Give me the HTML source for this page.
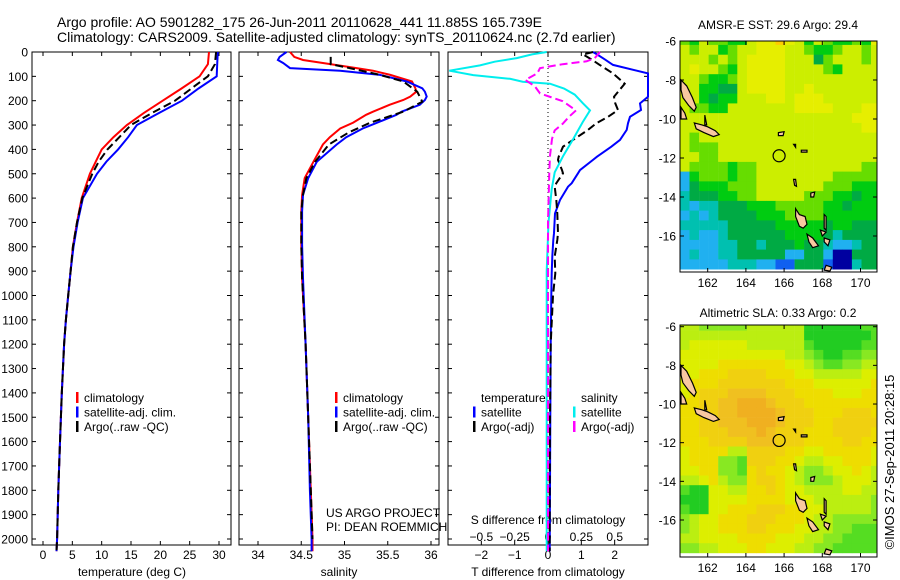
<!DOCTYPE html>
<html><head><meta charset="utf-8"><style>
html,body{margin:0;padding:0;background:#fff}
svg{display:block;font-family:"Liberation Sans",sans-serif}
</style></head><body>
<svg id="fig" width="900" height="580" viewBox="0 0 900 580" xmlns="http://www.w3.org/2000/svg">
<text x="57" y="27" font-size="14">Argo profile: AO 5901282_175 26-Jun-2011 20110628_441 11.885S 165.739E</text>
<text x="57" y="42" font-size="14">Climatology: CARS2009. Satellite-adjusted climatology: synTS_20110624.nc (2.7d earlier)</text>
<g id="g1"></g>
<g id="g2"></g>
<g id="g3"></g>
<g id="m1"></g>
<g id="m2"></g>
<text transform="translate(894,462) rotate(-90)" text-anchor="middle" font-size="13">©IMOS 27-Sep-2011 20:28:15</text>
</svg>
<script>
// ---- profile data (depth m) ----
const tDepth = [0,50,100,150,200,250,300,350,400,450,500,600,700,800,900,1000,1100,1200,1400,1600,1800,2000,2050];
const tClim  = [28.3,28.1,26.7,23.6,20.4,17.2,14.3,12.0,10.0,9.0,8.0,6.6,5.8,5.1,4.7,4.3,3.9,3.6,3.2,2.9,2.6,2.4,2.3];
const tSat   = [29.8,29.7,29.6,26.5,23.7,19.8,16.0,14.5,12.8,10.8,9.2,6.8,5.9,5.2,4.7,4.3,3.9,3.6,3.2,2.9,2.6,2.4,2.3];
const tArgo  = [29.5,29.3,28.1,25.3,22.5,18.6,15.0,13.0,11.0,9.5,8.4,6.7,5.8,5.1,4.7,4.3,3.9,3.6,3.2,2.9,2.6,2.4,2.3];
const sDepth = [0,20,33,45,66,77,94,121,149,163,183,197,217,245,258,290,314,350,380,451,518,587,655,792,929,1200,1500,1800,2000,2050];
const sClim  = [34.37,34.42,34.52,34.75,35.14,35.33,35.53,35.78,35.82,35.83,35.76,35.68,35.52,35.33,35.25,35.1,34.95,34.83,34.75,34.64,34.54,34.51,34.50,34.50,34.51,34.55,34.58,34.61,34.63,34.63];
const sSat   = [34.33,34.25,34.23,34.29,34.37,34.95,35.41,35.72,35.9,35.93,35.95,35.93,35.87,35.66,35.6,35.38,35.21,35.02,34.91,34.68,34.58,34.52,34.51,34.51,34.52,34.55,34.58,34.6,34.62,34.62];
const sArgoDepth = [20,50,66,94,121,163,204,245,290,330,380,451,518,587,655,792,929,1200,1500,1800,2000];
const sArgo  = [34.84,34.84,35.06,35.41,35.68,35.84,35.9,35.68,35.3,35.05,34.82,34.66,34.56,34.52,34.5,34.5,34.51,34.55,34.58,34.61,34.63];
// differences
const dDepth = [0,10,30,53,88,130,184,211,238,266,293,320,361,389,430,443,485,498,539,553,608,663,744,772,840,909,1000,1200,1500,1800,2050];
const dTsat  = [1.35,1.47,1.7,1.95,3.2,3.4,3.1,2.76,2.79,2.46,2.4,2.36,2.16,1.9,1.47,1.35,0.96,0.9,0.71,0.6,0.36,0.21,0.18,0.16,0.13,0.11,0.1,0.08,0.07,0.06,0.05];
const dTargo = [1.35,1.05,1.3,1.55,1.95,2.3,1.98,2.02,2.1,1.8,1.45,1.2,0.75,0.45,0.32,0.3,0.42,0.45,0.25,0.2,0.25,0.28,0.3,0.28,0.2,0.22,0.15,0.08,0.06,0.05,0.05];
const sDDepth= [0,10,25,40,55,77,95,110,122,130,150,175,210,240,288,357,426,494,563,700,900,1200,1600,2050];
const dSsat  = [-0.01,-0.12,-0.235,-0.4,-0.51,-0.74,-0.56,-0.285,-0.19,0.015,0.12,0.2,0.26,0.315,0.26,0.19,0.115,0.05,0.028,0.004,-0.01,-0.01,-0.01,-0.01];
const sDADepth=[0,25,38,50,66,88,115,140,170,202,240,265,295,322,357,426,494,700,1000,1500,2050];
const dSargo = [0.39,0.35,0.29,0.11,-0.06,-0.08,-0.17,-0.1,-0.06,0.11,0.21,0.16,0.11,0.05,0.03,0.015,0.01,0.0,0.0,0.0,0.0];
const depthTicks=[0,100,200,300,400,500,600,700,800,900,1000,1100,1200,1300,1400,1500,1600,1700,1800,1900,2000];
const tTicks=[0,5,10,15,20,25,30];
const sTicks=[34,34.5,35,35.5,36];
const sTickLabels=["34","34.5","35","35.5","36"];
const dTTicks=[-2,-1,0,1,2];
const dSTicks=[-0.5,-0.25,0,0.25,0.5];
const dSTickLabels=["\u22120.5","\u22120.25","0","0.25","0.5"];

// ---- map data: rows from -6 southward, 0.5 deg cells, 21 columns from 160.55E ----
const sstRows=[
"657665578898757655658","767756778887765567767","777676788887774677767","787765788887777657777",
"776556788887777777777","775544788887787777777","775455777887888777777","766557777777888877788",
"777777777777777777888","777777777777777777788","767777777777777777777","766677777777777777777",
"776677777777777777777","766665667777777777766","256665667777777766666","245556667777777666555",
"344455667777766655455","323344455566666554555","232344445556666555555","333334444455555455444",
"232234444445555434444","222233443444544322344","232233444442244200444","222223332211444100344"];
const slaRows=[
"332222233333300000011","333333333333300000001","344444433333310000011","444444444443321001122",
"444455555554432112233","445556666555443333344","455566666665554444445","456667777666555544455",
"556677888766655555555","556677888876665556665","556677788876665566666","556667778766655566665",
"555666677766655556655","455553366665544555554","455522166655433445554","445522156554322344543",
"334532256654322234443","100443355654433334433","000444455554443333332","100445556665544333332",
"234455566655543322222","234455566555443322111","334444555544433221111","223344455444332211111"];
const sstColors=["#0000a0","#1060f0","#20b0f0","#00c0b0","#00aa44","#00cc11","#66dd00","#ccee00","#e6ee00","#ffcc00"];
const slaColors=["#22cc22","#55dd22","#88e822","#bbee11","#ddee00","#eedd00","#f0d010","#f0c020","#f0b020","#f0a020"];
const lonTicks=[162,164,166,168,170];
const latTicks=[-6,-8,-10,-12,-14,-16];
const floatLon=165.739, floatLat=-11.885;
const islands=[
 [[160.6,-8.0],[160.9,-8.3],[161.2,-8.9],[161.4,-9.4],[161.3,-9.6],[161.0,-9.3],[160.7,-8.9],[160.6,-8.5]],
 [[160.6,-9.4],[160.8,-9.7],[160.9,-10.0],[160.6,-10.0]],
 [[161.3,-10.2],[161.7,-10.3],[162.0,-10.4],[162.4,-10.6],[162.6,-10.8],[162.3,-10.9],[161.8,-10.7],[161.4,-10.5]],
 [[161.85,-9.8],[161.95,-10.3],[161.85,-10.3]],
 [[165.7,-10.7],[166.0,-10.65],[165.95,-10.85],[165.7,-10.85]],
 [[166.5,-11.3],[166.6,-11.3],[166.6,-11.45]],
 [[166.9,-11.6],[167.2,-11.6],[167.2,-11.7],[166.9,-11.7]],
 [[166.5,-13.1],[166.6,-13.1],[166.65,-13.45],[166.55,-13.4]],
 [[167.4,-13.8],[167.6,-13.75],[167.55,-14.0],[167.4,-14.0]],
 [[166.6,-14.6],[166.8,-14.9],[167.1,-15.0],[167.2,-15.4],[167.0,-15.6],[166.8,-15.5],[166.6,-15.0]],
 [[167.2,-15.9],[167.5,-16.1],[167.8,-16.5],[167.5,-16.6],[167.3,-16.3]],
 [[167.9,-15.7],[168.2,-15.8],[168.0,-16.0]],
 [[168.1,-14.9],[168.2,-15.0],[168.2,-15.7],[168.1,-15.6]],
 [[168.1,-16.1],[168.4,-16.2],[168.3,-16.5],[168.1,-16.3]],
 [[168.2,-17.5],[168.5,-17.6],[168.4,-17.8],[168.1,-17.75]]];

const NS="http://www.w3.org/2000/svg";
function mk(parent,tag,attrs,name,txt){const e=document.createElementNS(NS,tag);for(const k in attrs)e.setAttribute(k,attrs[k]);


if(txt!==undefined)e.textContent=txt;parent.appendChild(e);return e;}

const Y0=52,PXM=0.2435,YB=545;
const yD=d=>Y0+d*PXM;
const panels=[{g:'g1',x0:32,x1:231},{g:'g2',x0:239,x1:439},{g:'g3',x0:448,x1:648}];
const xT=t=>43+t*5.867;
const xS=s=>258+(s-34)*86.5;
const xDT=t=>548+t*33.33;
const xDS=s=>548+s*133.33;

function line(g,xs,ds,fx,color,dash,name,x0,x1){
  let p=xs.map((v,i)=>Math.max(x0,Math.min(x1,fx(v))).toFixed(1)+','+yD(ds[i]).toFixed(1)).join(' ');
  const a={points:p,fill:'none',stroke:color,'stroke-width':2};
  if(dash)a['stroke-dasharray']='8,4';
  mk(g,'polyline',a,name);
}
panels.forEach((P,i)=>{
  const g=document.getElementById(P.g);
  mk(g,'rect',{x:P.x0,y:Y0,width:P.x1-P.x0,height:YB-Y0,fill:'#fff',stroke:'#000','stroke-width':1},'plot-frame');
  depthTicks.forEach(d=>{
    mk(g,'line',{x1:P.x0,x2:P.x0+4,y1:yD(d),y2:yD(d),stroke:'#000'},'y-tick');
    mk(g,'line',{x1:P.x1-4,x2:P.x1,y1:yD(d),y2:yD(d),stroke:'#000'},'y-tick');
    if(i===0)mk(g,'text',{x:28,y:yD(d)+4.5,'text-anchor':'end','font-size':12},'depth-tick-label',String(d));
  });
});
const g1=document.getElementById('g1'),g2=document.getElementById('g2'),g3=document.getElementById('g3');
tTicks.forEach(t=>{mk(g1,'line',{x1:xT(t),x2:xT(t),y1:Y0,y2:Y0+4,stroke:'#000'},'x-tick');mk(g1,'line',{x1:xT(t),x2:xT(t),y1:YB-4,y2:YB,stroke:'#000'},'x-tick');
 mk(g1,'text',{x:xT(t),y:559,'text-anchor':'middle','font-size':12},'temperature-tick-label',String(t));});
mk(g1,'text',{x:132,y:576,'text-anchor':'middle','font-size':12},'temperature-axis-title','temperature (deg C)');
sTicks.forEach((s,k)=>{mk(g2,'line',{x1:xS(s),x2:xS(s),y1:Y0,y2:Y0+4,stroke:'#000'},'x-tick');mk(g2,'line',{x1:xS(s),x2:xS(s),y1:YB-4,y2:YB,stroke:'#000'},'x-tick');
 mk(g2,'text',{x:xS(s),y:559,'text-anchor':'middle','font-size':12},'salinity-tick-label',sTickLabels[k]);});
mk(g2,'text',{x:339,y:576,'text-anchor':'middle','font-size':12},'salinity-axis-title','salinity');
dTTicks.forEach(t=>{mk(g3,'line',{x1:xDT(t),x2:xDT(t),y1:Y0,y2:Y0+4,stroke:'#000'},'x-tick');mk(g3,'line',{x1:xDT(t),x2:xDT(t),y1:YB-4,y2:YB,stroke:'#000'},'x-tick');
 mk(g3,'text',{x:xDT(t),y:559,'text-anchor':'middle','font-size':12},'t-diff-tick-label',t<0?'\u2212'+(-t):String(t));});
dSTicks.forEach((s,k)=>mk(g3,'text',{x:xDS(s),y:541,'text-anchor':'middle','font-size':12},'s-diff-tick-label',dSTickLabels[k]));
mk(g3,'text',{x:548,y:524,'text-anchor':'middle','font-size':12},'s-diff-axis-title','S difference from climatology');
mk(g3,'text',{x:548,y:576,'text-anchor':'middle','font-size':12},'t-diff-axis-title','T difference from climatology');
mk(g3,'line',{x1:548,x2:548,y1:Y0,y2:YB,stroke:'#000','stroke-dasharray':'1,3'},'zero-line');

line(g1,tClim,tDepth,xT,'#ff0000',false,'temp-climatology-line',32,231);
line(g1,tSat,tDepth,xT,'#0000ff',false,'temp-satellite-line',32,231);
line(g1,tArgo,tDepth,xT,'#000',true,'temp-argo-line',32,231);
line(g2,sClim,sDepth,xS,'#ff0000',false,'sal-climatology-line',239,439);
line(g2,sSat,sDepth,xS,'#0000ff',false,'sal-satellite-line',239,439);
line(g2,sArgo,sArgoDepth,xS,'#000',true,'sal-argo-line',239,439);
line(g3,dTsat,dDepth,xDT,'#0000ff',false,'tdiff-satellite-line',448,648);
line(g3,dTargo,dDepth,xDT,'#000',true,'tdiff-argo-line',448,648);
line(g3,dSsat,sDDepth,xDS,'#00eeee',false,'sdiff-satellite-line',448,648);
line(g3,dSargo,sDADepth,xDS,'#ff00ff',true,'sdiff-argo-line',448,648);

function legend(g,x,y,items){items.forEach((it,k)=>{const yy=y+k*14.5;
 if(it[0])mk(g,'rect',{x:x,y:yy-10,width:2.5,height:11,fill:it[0]},'legend-swatch');
 mk(g,'text',{x:x+8,y:yy,'font-size':12},'legend-entry',it[1]);});}
legend(g1,76,402,[['#ff0000','climatology'],['#0000ff','satellite-adj. clim.'],['#000','Argo(..raw -QC)']]);
legend(g2,335,402,[['#ff0000','climatology'],['#0000ff','satellite-adj. clim.'],['#000','Argo(..raw -QC)']]);
legend(g3,473,402,[[null,'temperature'],['#0000ff','satellite'],['#000','Argo(-adj)']]);
legend(g3,573,402,[[null,'salinity'],['#00eeee','satellite'],['#ff00ff','Argo(-adj)']]);
mk(g2,'text',{x:326,y:517,'font-size':12},'project-label','US ARGO PROJECT');
mk(g2,'text',{x:326,y:531,'font-size':12},'pi-label','PI: DEAN ROEMMICH');

function drawMap(id,top,bottom,pxDeg,rows,colors,title,titleY){
  const g=document.getElementById(id);
  const L=680,R=877,lon0=160.55;
  const X=lon=>L+(lon-lon0)*19.1, Yl=lat=>top+ (-6-lat)*pxDeg + (id==='m1'?0:1.7);
  const clip='clip-'+id;
  const cp=mk(g,'clipPath',{id:clip},'map-clip');
  mk(cp,'rect',{x:L,y:top,width:R-L,height:bottom-top},'map-clip-rect');
  const cg=mk(g,'g',{'clip-path':'url(#'+clip+')'},'map-cells');
  rows.forEach((row,r)=>{for(let c=0;c<row.length;c++){
    const lonA=lon0+c*0.5, latA=-6+0.3-r*0.5;
    mk(cg,'rect',{x:X(lonA).toFixed(1),y:Yl(latA).toFixed(1),width:9.8,height:(pxDeg*0.5+0.3).toFixed(1),fill:colors[+row[c]]},'map-cell');
  }});
  islands.forEach(poly=>mk(cg,'polygon',{points:poly.map(p=>X(p[0]).toFixed(1)+','+Yl(p[1]).toFixed(1)).join(' '),fill:'#f8c8a0',stroke:'#000','stroke-width':1.2},'island'));
  mk(cg,'circle',{cx:X(floatLon),cy:Yl(floatLat),r:6,fill:'none',stroke:'#000','stroke-width':1.2},'float-position-marker');
  mk(g,'rect',{x:L,y:top,width:R-L,height:bottom-top,fill:'none',stroke:'#000'},'map-frame');
  lonTicks.forEach(l=>{mk(g,'line',{x1:X(l),x2:X(l),y1:top,y2:top+4,stroke:'#000'},'lon-tick');mk(g,'line',{x1:X(l),x2:X(l),y1:bottom-4,y2:bottom,stroke:'#000'},'lon-tick');
    mk(g,'text',{x:X(l),y:bottom+15,'text-anchor':'middle','font-size':12},'lon-tick-label',String(l));});
  latTicks.forEach(l=>{mk(g,'line',{x1:L,x2:L+4,y1:Yl(l),y2:Yl(l),stroke:'#000'},'lat-tick');mk(g,'line',{x1:R-4,x2:R,y1:Yl(l),y2:Yl(l),stroke:'#000'},'lat-tick');
    mk(g,'text',{x:676,y:Yl(l)+4.5,'text-anchor':'end','font-size':12},'lat-tick-label',String(l));});
  mk(g,'text',{x:778,y:titleY,'text-anchor':'middle','font-size':12},'map-title',title);
}
drawMap('m1',41,272,19.5,sstRows,sstColors,'AMSR-E SST: 29.6 Argo: 29.4',29);
drawMap('m2',325,557,19.33,slaRows,slaColors,'Altimetric SLA: 0.33 Argo: 0.2',317);
</script>
</body></html>
